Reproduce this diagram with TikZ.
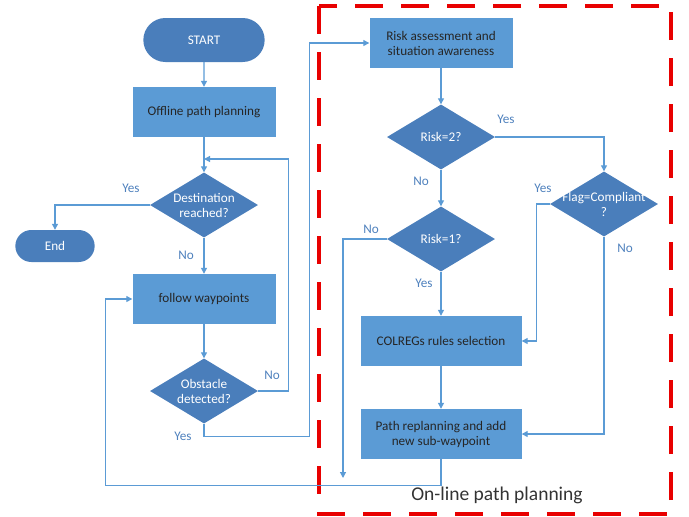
\documentclass[tikz,border=0pt]{standalone}
\usepackage{fontspec}
\setmainfont{Carlito}
\usetikzlibrary{shapes.geometric,shapes.misc,arrows.meta}

\definecolor{boxblue}{RGB}{91,155,213}
\definecolor{darkblue}{RGB}{74,126,187}
\definecolor{lineblue}{RGB}{91,155,213}
\definecolor{labelblue}{RGB}{79,129,189}
\definecolor{dashred}{RGB}{232,0,0}

\begin{document}
\begin{tikzpicture}[
    x=1pt, y=-1pt,
    every node/.style = {font=\fontsize{13.2}{15}\selectfont},
    procbox/.style  = {rectangle, fill=boxblue, text=black!85, align=center,
                       minimum width=143pt, minimum height=50pt},
    widebox/.style  = {procbox, minimum width=161pt},
    decision/.style = {diamond, fill=darkblue, text=white, align=center,
                       aspect=1.66, inner sep=0pt, inner xsep=-10pt,
                       minimum width=108pt, minimum height=65pt},
    terminal/.style = {rounded rectangle, fill=darkblue, text=white,
                       minimum width=128pt, minimum height=44pt},
    flow/.style     = {draw=lineblue, line width=1.2pt,
                       -{Triangle[length=6pt,width=6pt]}},
    answer/.style   = {text=labelblue}
  ]
    \useasboundingbox (0,0) rectangle (689,517);

    %% ---- on-line area ----
    \draw[dashred, line width=3.6pt, dash pattern=on 28pt off 18pt]
      (319,6) rectangle (671,514);
    \node[text=black!80, font=\fontsize{19.5}{22}\selectfont] (online) at (497,495)
      {On-line path planning};

    %% ---- off-line column ----
    \node[terminal] (start) at (204,40) {START};
    \node[procbox] (offline) at (204,112) {Offline path planning};
    \node[decision] (dest) at (204,205) {Destination\\reached?};
    \node[terminal, minimum width=86pt, minimum height=32pt] (endn) at (55,246) {End};
    \node[procbox] (follow) at (204,299) {follow waypoints};
    \node[decision] (obst) at (204,391) {Obstacle\\detected?};

    \coordinate (merge1) at (204,159);

    %% ---- on-line column ----
    \node[procbox] (risk) at (441,43) {Risk assessment and\\situation awareness};
    \node[decision] (risk2) at (441,137) {Risk=2?};
    \node[decision] (risk1) at (441,239) {Risk=1?};
    \node[decision, inner xsep=-17pt] (flag) at (604,204) {Flag=Compliant\\?};
    \node[widebox] (colregs) at (441,341) {COLREGs rules selection};
    \node[widebox] (replan) at (441,434) {Path replanning and add\\new sub-waypoint};

    \coordinate (merge2) at (343,478);

    %% ---- connectors ----
    \draw[flow] (start) -- (offline);
    \draw[flow] (offline) -- (dest);
    \draw[flow] (dest.west) -| (endn.north);
    \draw[flow] (dest) -- (follow);
    \draw[flow] (follow) -- (obst);
    \draw[flow] (obst.east) -- ++(30,0) |- (merge1);
    \draw[flow] (obst.south) -- ++(0,13) -| ([xshift=-60pt]risk.west) -- (risk.west);
    \draw[flow] (risk) -- (risk2);
    \draw[flow] (risk2.east) -| (flag.north);
    \draw[flow] (risk2) -- (risk1);
    \draw[flow] (risk1.west) -| (merge2);
    \draw[flow] (risk1) -- (colregs);
    \draw[flow] (flag.west) -- ++(-13,0) |- (colregs.east);
    \draw[flow] (flag.south) |- (replan.east);
    \draw[flow] (colregs) -- (replan);
    \draw[flow] (replan.south) -- ++(0,26) -| ([xshift=-27pt]follow.west) -- (follow.west);

    %% ---- yes / no labels ----
    \node[answer] (ydest) at (131,188) {Yes};
    \node[answer] (ndest) at (186,255) {No};
    \node[answer] (nobst) at (272,375) {No};
    \node[answer] (yobst) at (183,436) {Yes};
    \node[answer] (yrisk2) at (506,119) {Yes};
    \node[answer] (nrisk2) at (421,181) {No};
    \node[answer] (nrisk1) at (371,229) {No};
    \node[answer] (yrisk1) at (424,283) {Yes};
    \node[answer] (yflag) at (543,188) {Yes};
    \node[answer] (nflag) at (625,248) {No};
  \end{tikzpicture}
\end{document}
